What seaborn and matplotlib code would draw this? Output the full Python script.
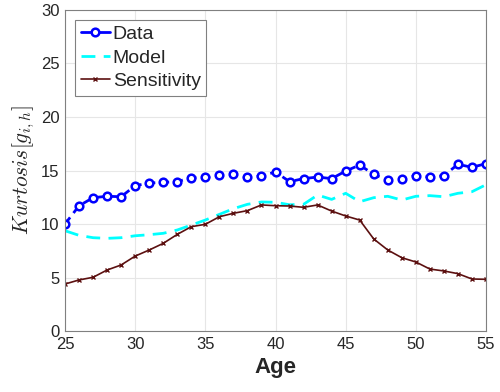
import numpy as np
import pandas as pd
import matplotlib
matplotlib.use("Agg")
import matplotlib.pyplot as plt
import seaborn as sns

ages = list(range(25, 56))

data_vals = [10.0, 11.7, 12.46, 12.59, 12.55, 13.58, 13.83, 13.9, 13.96, 14.33,
             14.36, 14.55, 14.7, 14.36, 14.49, 14.86, 13.96, 14.24, 14.39, 14.24,
             14.95, 15.51, 14.64, 14.08, 14.2, 14.52, 14.39, 14.52, 15.58, 15.3, 15.64]

model_vals = [9.37, 8.94, 8.72, 8.66, 8.72, 8.9, 9.0, 9.13, 9.44, 9.9,
              10.37, 10.9, 11.43, 11.84, 12.06, 12.03, 11.8, 11.84, 12.71, 12.3,
              12.87, 12.08, 12.46, 12.59, 12.24, 12.59, 12.65, 12.55, 12.87, 13.02, 13.67]

sens_vals = [4.39, 4.77, 5.02, 5.7, 6.17, 7.0, 7.57, 8.19, 9.03, 9.75,
             9.97, 10.68, 11.0, 11.25, 11.78, 11.71, 11.68, 11.56, 11.78, 11.21,
             10.75, 10.37, 8.6, 7.57, 6.85, 6.45, 5.79, 5.61, 5.36, 4.86, 4.83]

series_names = ["Data", "Model", "Sensitivity"]
x_ticks = [25, 30, 35, 40, 45, 50, 55]
y_ticks = [0, 5, 10, 15, 20, 25, 30]

df = pd.DataFrame({
    "Age": ages * 3,
    "Value": data_vals + model_vals + sens_vals,
    "Series": [series_names[0]] * len(ages) + [series_names[1]] * len(ages)
              + [series_names[2]] * len(ages),
})

sns.set_style("whitegrid")
plt.rcParams["font.family"] = ["Liberation Sans", "DejaVu Sans"]
plt.rcParams["mathtext.fontset"] = "cm"

fig = plt.figure(figsize=(5.0, 3.92), dpi=100)
ax = fig.add_axes([0.13, 0.1556, 0.842, 0.8189])

styles = {
    "Data": dict(color="#0000ff", linestyle=(0, (3, 2)), linewidth=2.0,
                 marker="o", markersize=5.5, markerfacecolor="white",
                 markeredgewidth=1.8, markeredgecolor="#0000ff"),
    "Model": dict(color="#00ffff", linestyle=(0, (5, 3)), linewidth=2.0),
    "Sensitivity": dict(color="#5c1010", linestyle="-", linewidth=1.2,
                        marker="x", markersize=3.5, markeredgewidth=1.0,
                        markeredgecolor="#5c1010"),
}

for name in series_names:
    sub = df[df["Series"] == name]
    sns.lineplot(data=sub, x="Age", y="Value", ax=ax, label=name,
                 estimator=None, sort=True, **styles[name])

ax.set_xlim(25, 55)
ax.set_ylim(0, 30)
ax.set_xticks(x_ticks)
ax.set_yticks(y_ticks)
ax.tick_params(axis="both", labelsize=12, colors="#262626", direction="in",
               length=4, width=0.6, pad=4)
for t in ax.get_xticklabels() + ax.get_yticklabels():
    t.set_color("#262626")

ax.grid(True, color="#e6e6e6", linewidth=0.8)
for side in ["left", "bottom", "top", "right"]:
    ax.spines[side].set_visible(True)
    ax.spines[side].set_color("#808080")
    ax.spines[side].set_linewidth(0.8)

ax.set_xlabel("Age", fontsize=16, fontweight="bold", color="#262626", labelpad=4)
ax.set_ylabel(r"$Kurtosis[g_{i,h}]$", fontsize=15.5, color="#262626", labelpad=3)

leg = ax.legend(loc="upper left", fontsize=14, frameon=True, fancybox=False,
                framealpha=1, edgecolor="#808080", borderpad=0.3,
                labelspacing=0.3, handlelength=1.5, handletextpad=0.15,
                borderaxespad=0.5)
leg.get_frame().set_linewidth(0.8)
for line in leg.get_lines():
    if line.get_label() == "Data":
        line.set_linestyle("-")

fig.savefig("out.png", dpi=100)
